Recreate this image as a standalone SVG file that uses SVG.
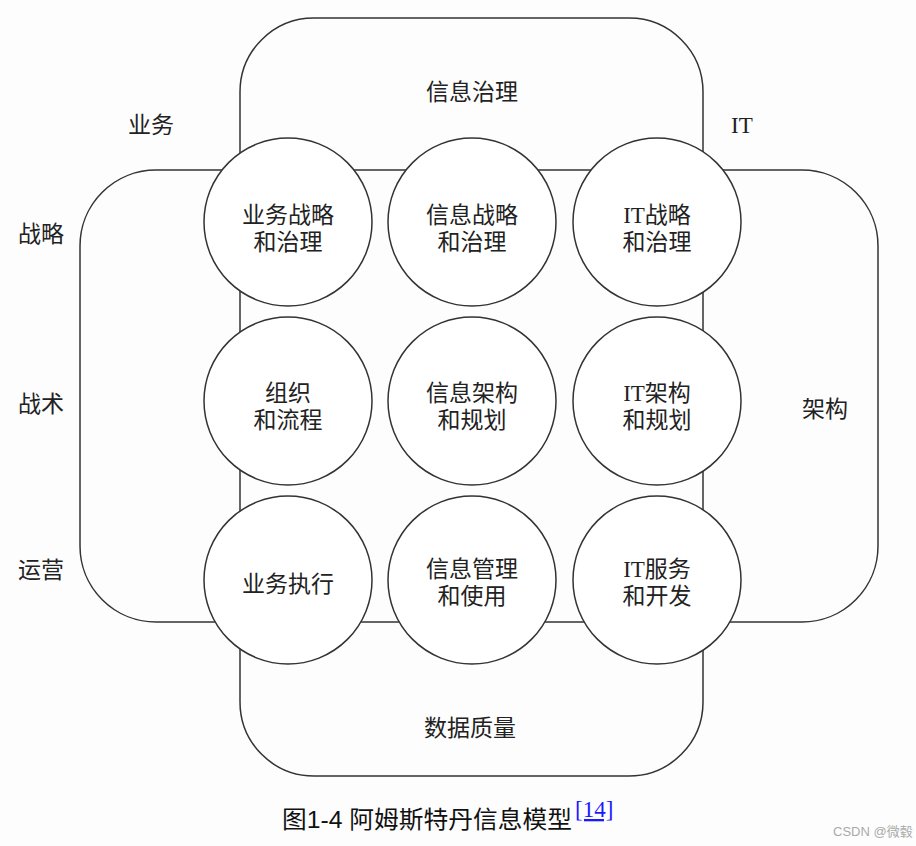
<svg xmlns="http://www.w3.org/2000/svg" width="916" height="846" viewBox="0 0 916 846">
<style>
.frame{fill:none;stroke:#333;stroke-width:1.5}
.node{fill:#fff;stroke:#333;stroke-width:1.5}
.t{font-family:"Liberation Serif","Noto Sans CJK SC",serif;font-size:23px;fill:#222;text-anchor:middle}
.lab{font-family:"Liberation Serif","Noto Sans CJK SC",serif;font-size:23px;fill:#222}
</style>
<rect width="916" height="846" fill="#fdfdfd"/>
<g id="regions">
  <rect id="vertical-band" class="frame" x="240" y="18" width="463" height="758" rx="74" ry="74"/>
  <rect id="horizontal-band" class="frame" x="80" y="170" width="798" height="452" rx="76" ry="76"/>
</g>
<g id="connectors"></g>
<g id="labels">
  <text class="t" x="472" y="100">信息治理</text>
  <text class="t" x="470" y="736">数据质量</text>
  <text class="lab" x="128" y="133">业务</text>
  <text class="lab" x="731" y="133">IT</text>
  <text class="lab" x="18" y="242">战略</text>
  <text class="lab" x="18" y="412">战术</text>
  <text class="lab" x="18" y="578">运营</text>
  <text class="lab" x="802" y="417">架构</text>
</g>
<g id="n11"><circle class="node" cx="288" cy="222" r="84"/><text class="t" x="288" y="223">业务战略</text><text class="t" x="288" y="250">和治理</text></g>
<g id="n12"><circle class="node" cx="472" cy="222" r="84"/><text class="t" x="472" y="223">信息战略</text><text class="t" x="472" y="250">和治理</text></g>
<g id="n13"><circle class="node" cx="657" cy="222" r="84"/><text class="t" x="657" y="223">IT战略</text><text class="t" x="657" y="250">和治理</text></g>
<g id="n21"><circle class="node" cx="288" cy="401" r="84"/><text class="t" x="288" y="401">组织</text><text class="t" x="288" y="428">和流程</text></g>
<g id="n22"><circle class="node" cx="472" cy="401" r="84"/><text class="t" x="472" y="401">信息架构</text><text class="t" x="472" y="428">和规划</text></g>
<g id="n23"><circle class="node" cx="657" cy="401" r="84"/><text class="t" x="657" y="401">IT架构</text><text class="t" x="657" y="428">和规划</text></g>
<g id="n31"><circle class="node" cx="288" cy="580" r="84"/><text class="t" x="288" y="592">业务执行</text></g>
<g id="n32"><circle class="node" cx="472" cy="580" r="84"/><text class="t" x="472" y="577">信息管理</text><text class="t" x="472" y="604">和使用</text></g>
<g id="n33"><circle class="node" cx="657" cy="580" r="84"/><text class="t" x="657" y="577">IT服务</text><text class="t" x="657" y="604">和开发</text></g>
<g id="caption">
  <text x="282" y="828" font-family="Liberation Sans,'Noto Sans CJK SC',sans-serif" font-size="24" fill="#111" textLength="290" lengthAdjust="spacingAndGlyphs">图1-4 阿姆斯特丹信息模型</text>
  <text x="575" y="817" font-family="Liberation Serif,serif" font-size="23" fill="#1a1aff" text-decoration="underline">[14]</text>
  <text x="833" y="836" font-family="Liberation Sans,'Noto Sans CJK SC',sans-serif" font-size="13" fill="#aaa">CSDN @微毂</text>
</g>
</svg>
